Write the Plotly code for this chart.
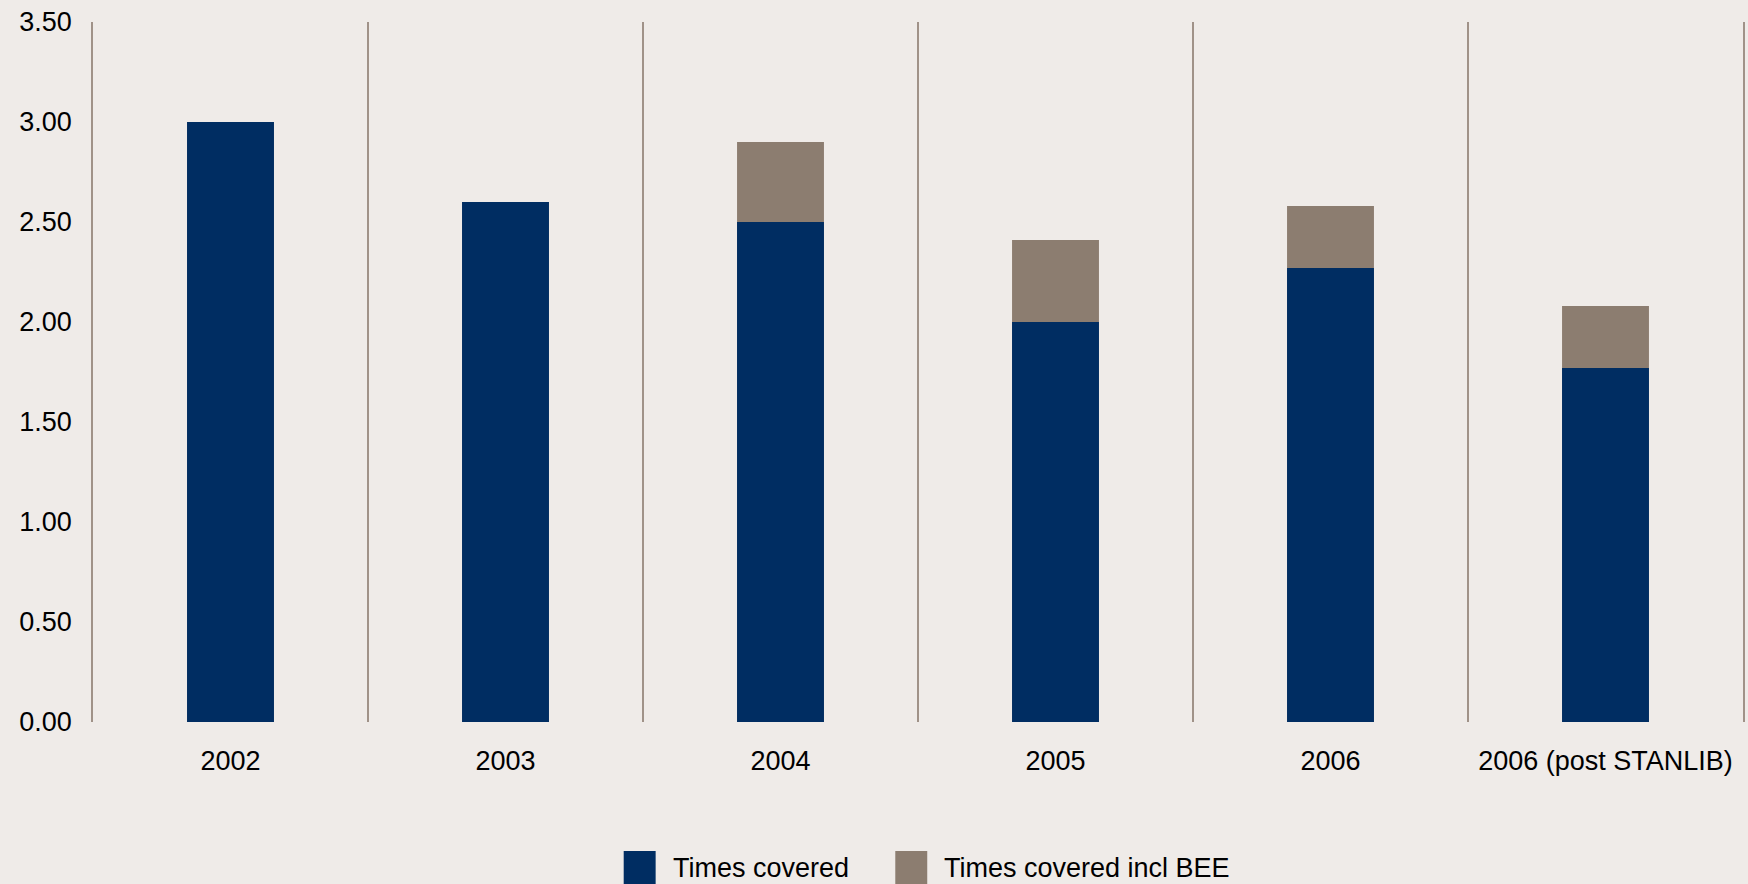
import plotly.graph_objects as go

categories = ["2002", "2003", "2004", "2005", "2006", "2006 (post STANLIB)"]
times_covered = [3.00, 2.60, 2.50, 2.00, 2.27, 1.77]
times_covered_incl_bee = [3.00, 2.60, 2.90, 2.41, 2.58, 2.08]
y_ticks = [0.0, 0.5, 1.0, 1.5, 2.0, 2.5, 3.0, 3.5]
series_names = ["Times covered", "Times covered incl BEE"]

BLUE = "#002D62"
TAUPE = "#8C7D70"
BG = "#EFEBE8"
GRID = "#A09288"

W, H = 1748, 884
L, R, T, B = 92.5, 3, 22, 162
PW, PH = W - L - R, H - T - B

fig = go.Figure()
fig.add_trace(go.Bar(x=categories, y=times_covered_incl_bee, name=series_names[1],
                     marker=dict(color=TAUPE, line=dict(width=0)), width=0.316, showlegend=False))
fig.add_trace(go.Bar(x=categories, y=times_covered, name=series_names[0],
                     marker=dict(color=BLUE, line=dict(width=0)), width=0.316, showlegend=False))

def px_x(px):
    return (px - L) / PW

def px_y(py):
    return (H - B - py) / PH

# manual legend (larger swatches than plotly's default)
legend_items = [(series_names[0], BLUE, 624, 671), (series_names[1], TAUPE, 896, 943)]
for name, col, sx, tx in legend_items:
    fig.add_shape(type="rect", xref="paper", yref="paper",
                  x0=px_x(sx), x1=px_x(sx + 32), y0=px_y(886), y1=px_y(851),
                  fillcolor=col, line=dict(width=0))
    fig.add_annotation(xref="paper", yref="paper", x=px_x(tx), y=px_y(868),
                       xanchor="left", yanchor="middle", showarrow=False, text=name,
                       font=dict(family="Liberation Sans, Arial, sans-serif",
                                 size=27, color="#000000"))

fig.update_layout(
    width=W, height=H,
    margin=dict(l=L, r=R, t=T, b=B, pad=0),
    paper_bgcolor=BG, plot_bgcolor=BG,
    barmode="overlay",
    font=dict(family="Liberation Sans, Arial, sans-serif", size=27, color="#000000"),
    showlegend=False,
    xaxis=dict(type="category", tickson="boundaries", showgrid=True, gridcolor=GRID, gridwidth=1.5,
               ticks="", showline=False, zeroline=False, ticklabelstandoff=20,
               range=[-0.5, 5.5]),
    yaxis=dict(range=[0, 3.5], tickvals=y_ticks, tickformat=".2f", showgrid=False,
               zeroline=False, showline=True, mirror=True, linecolor=GRID, linewidth=1.5,
               ticks="", ticklabelstandoff=14),
)

fig.write_html("out.html", config={"displayModeBar": False},
               post_script="document.body.style.margin='0';document.body.style.overflow='hidden';")
